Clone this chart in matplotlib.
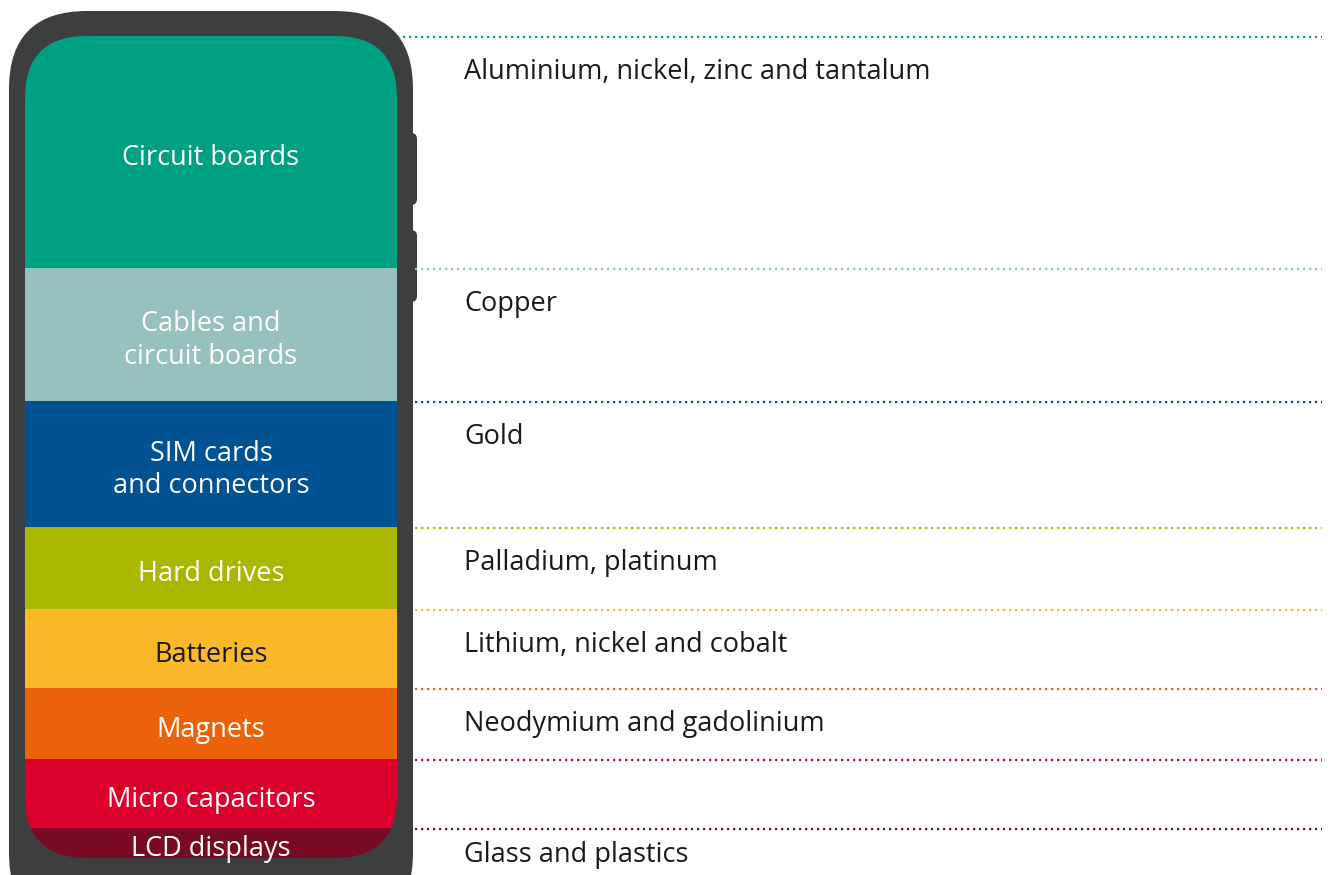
import numpy as np
import matplotlib
matplotlib.use("Agg")
from matplotlib import pyplot as plt
from matplotlib.patches import FancyBboxPatch

# components inside the phone, top to bottom
parts = ["Circuit boards", "Cables and\ncircuit boards", "SIM cards\nand connectors",
         "Hard drives", "Batteries", "Magnets", "Micro capacitors", "LCD displays"]
# share of the phone height (arbitrary units)
shares = [232, 133, 126, 82, 79, 71, 69, 30]
materials = ["Aluminium, nickel, zinc and tantalum", "Copper", "Gold", "Palladium, platinum",
             "Lithium, nickel and cobalt", "Neodymium and gadolinium", "", "Glass and plastics"]
colors = ["#00A082", "#96C1BD", "#005293", "#A9B700", "#FBB92A", "#EB6209", "#DC002D", "#780A23"]
line_colors = ["#00A082", "#8EC3BF", "#005293", "#A9B700", "#FBB92A", "#EB6209", "#DC002D", "#780A23"]
text_colors = ["white", "white", "white", "white", "#1a1a1a", "white", "white", "white"]

plt.rcParams['font.family'] = ['Open Sans', 'DejaVu Sans']

fig = plt.figure(figsize=(13.32, 8.75), dpi=100)
ax = fig.add_axes([0, 0, 1, 1])
ax.set_xlim(0, 1332)
ax.set_ylim(875, 0)
ax.axis("off")

frame = "#3D3F3E"
# side buttons
for y0 in (133, 230):
    ax.add_patch(FancyBboxPatch((400, y0), 17, 72, boxstyle="round,pad=0,rounding_size=6",
                                fc=frame, ec="none", zorder=1))
# phone body
ax.add_patch(FancyBboxPatch((9, 11), 404, 920, boxstyle="round,pad=0,rounding_size=78",
                            fc=frame, ec="none", zorder=2))
screen_top = 36
screen = FancyBboxPatch((25, screen_top), 372, sum(shares), boxstyle="round,pad=0,rounding_size=62",
                        fc="none", ec="none", transform=ax.transData)
ax.add_patch(screen)

tops = screen_top + np.concatenate([[0], np.cumsum(shares)[:-1]])
bars = ax.bar(211, shares, bottom=tops, width=372, color=colors, zorder=3)
for b in bars:
    b.set_clip_path(screen)

for i, (name, top, h) in enumerate(zip(parts, tops, shares)):
    ax.text(211, top + h / 2 + 6, name, ha="center", va="center", color=text_colors[i],
            fontsize=19.5, linespacing=1.2, zorder=4)
    x0 = 397 if i == 0 else 415
    ax.hlines(top + 1, x0, 1322, colors=line_colors[i], linestyles=(0, (1, 1.7)), lw=1.6, zorder=1)
    if materials[i]:
        ax.text(464, min(top + 36, 855), materials[i], ha="left", va="center",
                color="#1a1a1a", fontsize=19.5)

fig.savefig("out.png", dpi=100)
